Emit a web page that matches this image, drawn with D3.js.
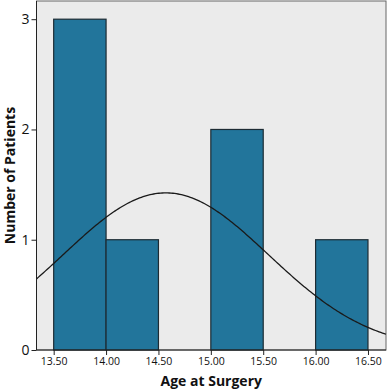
<!DOCTYPE html>
<html>
<head>
<meta charset="utf-8">
<script src="https://cdn.jsdelivr.net/npm/d3@7"></script>
<style>
  body { margin: 0; background: #fff; }
  text { font-family: "Open Sans", "DejaVu Sans", sans-serif; fill: #111; }
</style>
</head>
<body>
<div id="chart"></div>
<script>
// bins of the histogram
var binStarts = [13.5, 14.0, 14.5, 15.0, 15.5, 16.0];
var binWidth = 0.5;
var counts = [3, 1, 0, 2, 0, 1];
var xTicks = [13.5, 14.0, 14.5, 15.0, 15.5, 16.0, 16.5];
var yTicks = [0, 1, 2, 3];
// fitted normal curve
var curveMean = 14.57;
var curveSd = 0.98;
var nPatients = 7;

var width = 387, height = 390;
var plot = {left: 36.5, right: 386, top: 1, bottom: 350};

var svg = d3.select("#chart").append("svg")
    .attr("width", width)
    .attr("height", height);

var x = d3.scaleLinear()
    .domain([13.336, 16.672])
    .range([plot.left, plot.right]);
var y = d3.scaleLinear()
    .domain([0, 3.165])
    .range([plot.bottom, plot.top]);

svg.append("rect")
    .attr("x", plot.left)
    .attr("y", plot.top)
    .attr("width", plot.right - plot.left)
    .attr("height", plot.bottom - plot.top)
    .style("fill", "#ebebeb")
    .style("stroke", "#666")
    .style("stroke-width", 1);

var data = binStarts.map(function(d, i) { return {x0: d, x1: d + binWidth, n: counts[i]}; })
    .filter(function(d) { return d.n > 0; });

svg.selectAll(".bar")
    .data(data).enter()
    .append("rect")
    .attr("class", "bar")
    .attr("x", function(d) { return x(d.x0); })
    .attr("y", function(d) { return y(d.n); })
    .attr("width", function(d) { return x(d.x1) - x(d.x0); })
    .attr("height", function(d) { return y(0) - y(d.n); })
    .style("fill", "#22759b")
    .style("stroke", "#1d2b33")
    .style("stroke-width", 1.2);

// normal curve
var xs = d3.range(0, 201).map(function(i) { return 13.336 + i * (16.672 - 13.336) / 200; });
var curve = xs.map(function(v) {
    var z = (v - curveMean) / curveSd;
    return [v, nPatients * binWidth / (curveSd * Math.sqrt(2 * Math.PI)) * Math.exp(-0.5 * z * z)];
});
svg.append("path")
    .datum(curve)
    .attr("d", d3.line().x(function(d) { return x(d[0]); }).y(function(d) { return y(d[1]); }))
    .style("fill", "none")
    .style("stroke", "#1a1a1a")
    .style("stroke-width", 1.3);

// axes lines
svg.append("line")
    .attr("x1", plot.left).attr("x2", plot.left)
    .attr("y1", plot.top).attr("y2", plot.bottom)
    .style("stroke", "#222");
svg.append("line")
    .attr("x1", plot.left).attr("x2", plot.right)
    .attr("y1", plot.bottom).attr("y2", plot.bottom)
    .style("stroke", "#222");

var xAxis = svg.append("g")
    .attr("transform", "translate(0," + plot.bottom + ")")
    .call(d3.axisBottom(x).tickValues(xTicks).tickSize(5).tickPadding(3)
        .tickFormat(d3.format(".2f")));
xAxis.select(".domain").remove();
xAxis.selectAll("line").style("stroke", "#222");
xAxis.selectAll("text").style("font-size", "10.5px").style("fill", "#111");

var yAxis = svg.append("g")
    .attr("transform", "translate(" + plot.left + ",0)")
    .call(d3.axisLeft(y).tickValues(yTicks).tickSize(5).tickPadding(2)
        .tickFormat(d3.format("d")));
yAxis.select(".domain").remove();
yAxis.selectAll("line").style("stroke", "#222");
yAxis.selectAll("text").style("font-size", "14px").style("fill", "#111");

svg.append("text")
    .attr("x", (plot.left + plot.right) / 2)
    .attr("y", 386)
    .attr("text-anchor", "middle")
    .style("font-size", "14px")
    .style("font-weight", "bold")
    .text("Age at Surgery");

svg.append("text")
    .attr("transform", "translate(15," + ((plot.top + plot.bottom) / 2) + ") rotate(-90)")
    .attr("text-anchor", "middle")
    .style("font-size", "14px")
    .style("font-weight", "bold")
    .text("Number of Patients");
</script>
</body>
</html>
